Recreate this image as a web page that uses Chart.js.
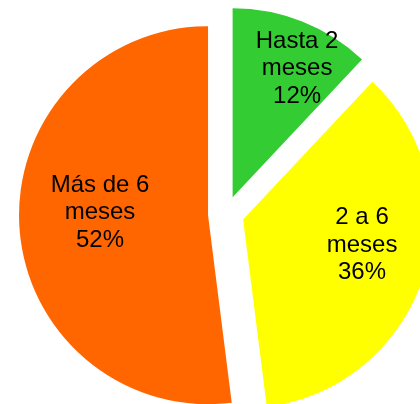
<!DOCTYPE html>
<html><head><meta charset="utf-8">
<script src="https://cdn.jsdelivr.net/npm/chart.js@4"></script>
<style>html,body{margin:0;padding:0;background:#fff;overflow:hidden;}#c{display:block;}</style>
</head><body>
<canvas id="c" width="420" height="404"></canvas>
<script>
// ---- data ----
const categories = [["Hasta 2", "meses"], ["2 a 6", "meses"], ["Más de 6", "meses"]];
const values = [12, 36, 52];
const colors = ["#33CC33", "#FFFF00", "#FF6600"];

// ---- styling / placement (not data) ----
const RADIUS = 189;          // pie radius in px
const EXPLODE = 18;          // explosion distance in px
const LINE_H = 27.5;         // label line height
const labelFrac = [0.731, 0.652, 0.572];   // label distance as fraction of radius
const labelNudge = [6.2, -2.8, 1.5];       // label angle nudge (deg)

const total = values.reduce((a, b) => a + b, 0);

const explodePlugin = {
  id: 'explode',
  afterDatasetsUpdate(chart) {
    chart.getDatasetMeta(0).data.forEach(el => {
      const mid = (el.startAngle + el.endAngle) / 2;
      el.x += Math.cos(mid) * EXPLODE;
      el.y += Math.sin(mid) * EXPLODE;
    });
  }
};

const labelPlugin = {
  id: 'sliceLabels',
  afterDatasetsDraw(chart) {
    const ctx = chart.ctx;
    const meta = chart.getDatasetMeta(0);
    ctx.save();
    ctx.font = '24px "Liberation Sans", Arial, sans-serif';
    ctx.fillStyle = '#000';
    ctx.textAlign = 'center';
    ctx.textBaseline = 'alphabetic';
    meta.data.forEach((el, i) => {
      const a = (el.startAngle + el.endAngle) / 2 + labelNudge[i] * Math.PI / 180;
      const r = el.outerRadius * labelFrac[i];
      const x = el.x + Math.cos(a) * r;
      const y = el.y + Math.sin(a) * r;
      const lines = [...categories[i], Math.round(values[i] / total * 100) + '%'];
      lines.forEach((t, k) => ctx.fillText(t, x, y + (k - 1) * LINE_H));
    });
    ctx.restore();
  }
};

new Chart(document.getElementById('c'), {
  type: 'pie',
  data: {
    labels: categories,
    datasets: [{
      data: values,
      backgroundColor: colors,
      borderWidth: 0,
      hoverOffset: 0,
      clip: false
    }]
  },
  options: {
    responsive: false,
    animation: false,
    events: [],
    radius: RADIUS,
    layout: { padding: { left: 32, top: 24, right: 0, bottom: 0 } },
    plugins: { legend: { display: false }, tooltip: { enabled: false } }
  },
  plugins: [explodePlugin, labelPlugin]
});
</script>
</body></html>
